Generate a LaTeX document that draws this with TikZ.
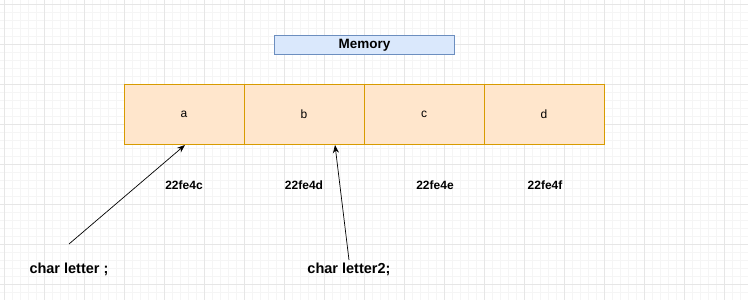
\documentclass[tikz,border=0pt]{standalone}
\usepackage{fontspec}
\setmainfont{Liberation Sans}
\usetikzlibrary{arrows.meta}
\definecolor{memfill}{HTML}{DAE8FC}
\definecolor{memdraw}{HTML}{6C8EBF}
\definecolor{cellfill}{HTML}{FFE6CC}
\definecolor{celldraw}{HTML}{D79B00}
\definecolor{gridmajor}{HTML}{E6E6E6}
\definecolor{gridminor}{HTML}{F5F5F5}
\tikzset{
  cellbox/.style={draw=celldraw, fill=cellfill, line width=0.9pt, minimum width=120pt, minimum height=60pt, inner sep=0pt, outer sep=0pt, anchor=north west, font=\fontsize{12}{14}\selectfont},
  addr/.style={font=\bfseries\fontsize{12}{14}\selectfont, inner sep=0pt},
  varlbl/.style={font=\bfseries\fontsize{14.5}{16}\selectfont, inner sep=0pt},
  ptr/.style={-{Stealth[length=8pt,width=6pt]}, line width=0.7pt, black}
}
\begin{document}
\begin{tikzpicture}[x=1pt,y=-1pt]
\useasboundingbox (0,0) rectangle (748,300);
\fill[white] (0,0) rectangle (748,300);
% grid
\foreach \i in {0,...,93} {
  \draw[gridminor, line width=0.6pt] (4+\i*8,0) -- (4+\i*8,300);
}
\foreach \i in {0,...,37} {
  \draw[gridminor, line width=0.6pt] (0,4+\i*8) -- (748,4+\i*8);
}
\foreach \i in {0,...,18} {
  \draw[gridmajor, line width=0.8pt] (4+\i*40,0) -- (4+\i*40,300);
}
\foreach \i in {0,...,7} {
  \draw[gridmajor, line width=0.8pt] (0,4+\i*40) -- (748,4+\i*40);
}
% memory title
\node[draw=memdraw, fill=memfill, line width=0.8pt, minimum width=180pt, minimum height=19pt, inner sep=0pt, anchor=north west, font=\bfseries\fontsize{13.5}{15}\selectfont] (mem) at (274,35) {Memory};
% cells
\node[cellbox] (ca) at (124,84) {a};
\node[cellbox] (cb) at (244,84) {b};
\node[cellbox] (cc) at (364,84) {c};
\node[cellbox] (cd) at (484,84) {d};
% addresses
\node[addr] (aa) at (184,185) {22fe4c};
\node[addr] (ab) at (304,185) {22fe4d};
\node[addr] (ac) at (435,185) {22fe4e};
\node[addr] (ad) at (545,185) {22fe4f};
% variables
\node[varlbl] (v1) at (69,269) {char letter ;};
\node[varlbl] (v2) at (349,269) {char letter2;};
\coordinate (s1) at (69,244);
\coordinate (s2) at (349,260);
\coordinate (t1) at (185,145);
\coordinate (t2) at (335,145);
\draw[ptr] (s1) -- (t1);
\draw[ptr] (s2) -- (t2);
\end{tikzpicture}
\end{document}
